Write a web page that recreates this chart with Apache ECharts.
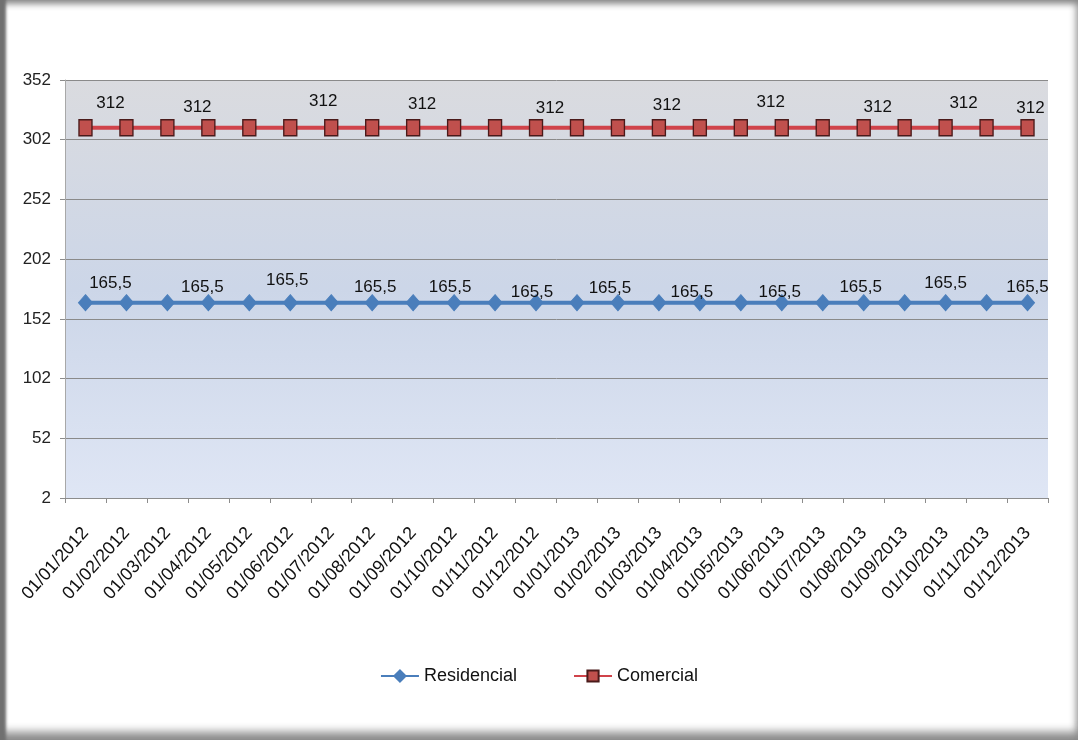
<!DOCTYPE html>
<html>
<head>
<meta charset="utf-8">
<script src="https://cdn.jsdelivr.net/npm/echarts@6/dist/echarts.min.js"></script>
<style>
html,body{margin:0;padding:0;background:#fff;}
#frame{position:relative;width:1078px;height:740px;box-sizing:border-box;overflow:hidden;}
#frame:after{content:"";position:absolute;left:0;top:0;right:0;bottom:0;pointer-events:none;
 box-shadow: inset 8px 0 3px -2px #707070, inset 0 7px 6px -3px #8a8a8a, inset 0 -14px 10px -6px #8a8a8a, inset -6px 0 6px -3px #b5b5b5;}
#chart{width:1078px;height:740px;}
</style>
</head>
<body>
<div id="frame"><div id="chart"></div></div>
<script>
const categories = ["01/01/2012","01/02/2012","01/03/2012","01/04/2012","01/05/2012","01/06/2012","01/07/2012","01/08/2012","01/09/2012","01/10/2012","01/11/2012","01/12/2012",
  "01/01/2013","01/02/2013","01/03/2013","01/04/2013","01/05/2013","01/06/2013","01/07/2013","01/08/2013","01/09/2013","01/10/2013","01/11/2013","01/12/2013"];
const residencial = [165.5,165.5,165.5,165.5,165.5,165.5,165.5,165.5,165.5,165.5,165.5,165.5,165.5,165.5,165.5,165.5,165.5,165.5,165.5,165.5,165.5,165.5,165.5,165.5];
const comercial = [312,312,312,312,312,312,312,312,312,312,312,312,312,312,312,312,312,312,312,312,312,312,312,312];
const yTicks = [2,52,102,152,202,252,302,352];
const residencialLabelIdx = [1,3,5,7,9,11,13,15,17,19,21,23];
const comercialLabelIdx = [1,3,6,8,11,14,17,19,22,23];

// label layout nudges (styling only)
const resNudge = {1:[-16,0],3:[-6,4],5:[-3,-3],7:[3,4],9:[-4,4],11:[-4,9],13:[-8,5],15:[-8,9],17:[-2,9],19:[-3,4],21:[0,0],23:[0,4]};
const comNudge = {1:[-16,-5],3:[-11,-1],6:[-8,-7],8:[9,-4],11:[14,0],14:[8,-3],17:[-11,-6],19:[14,-1],22:[-23,-5],23:[3,0]};

const fmt = v => String(v).replace('.', ',');
function buildData(values, idxs, nudge) {
  return values.map((v, i) => {
    if (idxs.indexOf(i) >= 0) {
      return {value: v, label: {show: true, offset: nudge[i] || [0,0]}};
    }
    return {value: v};
  });
}

const FONT = '"Liberation Sans", Arial, sans-serif';
const chart = echarts.init(document.getElementById('chart'));
chart.setOption({
  animation: false,
  backgroundColor: 'transparent',
  textStyle: {fontFamily: FONT},
  grid: {
    left: 65, right: 30, top: 80, bottom: 242,
    show: true,
    borderWidth: 0,
    backgroundColor: new echarts.graphic.LinearGradient(0, 0, 0, 1, [
      {offset: 0, color: '#dadbdf'},
      {offset: 0.5, color: '#ccd6e8'},
      {offset: 1, color: '#dfe6f5'}
    ])
  },
  legend: {
    bottom: 50,
    left: 'center',
    itemWidth: 38,
    itemHeight: 14,
    itemGap: 56,
    textStyle: {fontFamily: FONT, fontSize: 18, color: '#111'},
    data: ['Residencial', 'Comercial']
  },
  xAxis: {
    type: 'category',
    data: categories,
    boundaryGap: true,
    axisLine: {show: true, lineStyle: {color: '#8c8c8c', width: 1}},
    axisTick: {show: true, length: 5, lineStyle: {color: '#8c8c8c'}},
    axisLabel: {rotate: 48, fontSize: 18, color: '#111', margin: 32, interval: 0, fontFamily: FONT}
  },
  yAxis: {
    type: 'value',
    min: yTicks[0],
    max: yTicks[yTicks.length - 1],
    interval: yTicks[1] - yTicks[0],
    axisLine: {show: true, lineStyle: {color: '#a8a8a8', width: 1}},
    axisTick: {show: true, length: 5, lineStyle: {color: '#8c8c8c'}},
    axisLabel: {fontSize: 17, color: '#222', margin: 14, fontFamily: FONT},
    splitLine: {show: true, lineStyle: {color: '#8a8a8a', width: 1}}
  },
  series: [
    {
      name: 'Residencial',
      type: 'line',
      data: buildData(residencial, residencialLabelIdx, resNudge),
      symbol: 'diamond',
      symbolSize: [14, 16],
      lineStyle: {color: '#4a7ebb', width: 4},
      itemStyle: {color: '#4a7ebb', borderColor: '#4a7ebb', borderWidth: 1},
      label: {show: false, position: 'top', distance: 2, fontSize: 17, color: '#111', fontFamily: FONT,
        formatter: p => fmt(p.value)},
      z: 3
    },
    {
      name: 'Comercial',
      type: 'line',
      data: buildData(comercial, comercialLabelIdx, comNudge),
      symbol: 'rect',
      symbolSize: [13, 16],
      lineStyle: {color: '#d0434a', width: 4},
      itemStyle: {color: '#c0504d', borderColor: '#4a1a1a', borderWidth: 1.5},
      label: {show: false, position: 'top', distance: 2, fontSize: 17, color: '#111', fontFamily: FONT,
        formatter: p => fmt(p.value)},
      z: 3
    }
  ]
});
</script>
</body>
</html>
